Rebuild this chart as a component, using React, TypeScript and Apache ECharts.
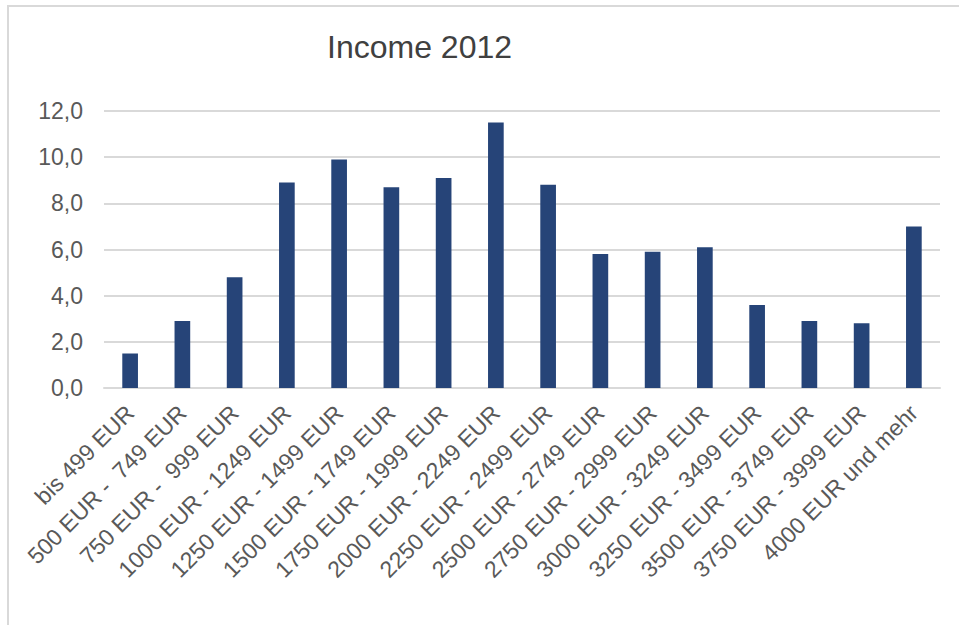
import React, { useEffect, useRef } from "react";
import * as echarts from "echarts";

const categories = [
  "bis 499 EUR",
  "500 EUR -  749 EUR",
  "750 EUR -  999 EUR",
  "1000 EUR - 1249 EUR",
  "1250 EUR - 1499 EUR",
  "1500 EUR - 1749 EUR",
  "1750 EUR - 1999 EUR",
  "2000 EUR - 2249 EUR",
  "2250 EUR - 2499 EUR",
  "2500 EUR - 2749 EUR",
  "2750 EUR - 2999 EUR",
  "3000 EUR - 3249 EUR",
  "3250 EUR - 3499 EUR",
  "3500 EUR - 3749 EUR",
  "3750 EUR - 3999 EUR",
  "4000 EUR und mehr",
];

const values = [1.5, 2.9, 4.8, 8.9, 9.9, 8.7, 9.1, 11.5, 8.8, 5.8, 5.9, 6.1, 3.6, 2.9, 2.8, 7.0];

const yTickLabels = ["0,0", "2,0", "4,0", "6,0", "8,0", "10,0", "12,0"];

const titleText = "Income 2012";

export default function App() {
  const ref = useRef<HTMLDivElement>(null);
  useEffect(() => {
    if (!ref.current) return;
    const chart = echarts.init(ref.current, null, { renderer: "svg" });
    const font = "'Liberation Sans', Arial, sans-serif";
    chart.setOption({
      animation: false,
      backgroundColor: "#ffffff",
      title: {
        text: titleText,
        left: 327,
        top: 31,
        padding: 0,
        textStyle: { fontFamily: font, fontSize: 32, fontWeight: "normal", color: "#404040" },
      },
      graphic: [
        { type: "line", shape: { x1: 7, y1: 6, x2: 959, y2: 6 }, style: { stroke: "#d9d9d9", lineWidth: 2 } },
        { type: "line", shape: { x1: 8, y1: 5, x2: 8, y2: 625 }, style: { stroke: "#d9d9d9", lineWidth: 2 } },
      ],
      grid: { left: 104, right: 19, top: 111, bottom: 237, containLabel: false, outerBoundsMode: "none" },
      xAxis: {
        type: "category",
        data: categories,
        axisTick: { show: false },
        axisLine: { lineStyle: { color: "#d9d9d9", width: 2 } },
        axisLabel: {
          interval: 0,
          rotate: 45,
          margin: 21,
          fontFamily: font,
          fontSize: 23,
          color: "#595959",
        },
      },
      yAxis: {
        type: "value",
        min: 0,
        max: 12,
        interval: 2,
        axisLine: { show: false },
        axisTick: { show: false },
        splitLine: { lineStyle: { color: "#d9d9d9", width: 2 } },
        axisLabel: {
          margin: 21,
          fontFamily: font,
          fontSize: 23,
          color: "#595959",
          formatter: (v: number) => yTickLabels[Math.round(v / 2)] ?? String(v),
        },
      },
      series: [
        {
          type: "bar",
          data: values,
          barWidth: "30%",
          itemStyle: { color: "#264478" },
        },
      ],
    });
    return () => chart.dispose();
  }, []);
  return <div ref={ref} style={{ position: "absolute", left: 0, top: 0, width: 959, height: 625 }} />;
}
